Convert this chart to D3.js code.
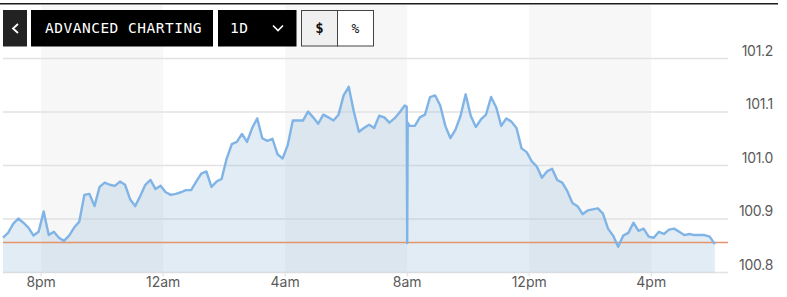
<!DOCTYPE html>
<html>
<head>
<meta charset="utf-8">
<script src="https://cdn.jsdelivr.net/npm/d3@7"></script>
<style>
body{margin:0;background:#fff;}
svg text{font-family:Inter,"Noto Sans",sans-serif;}
.btn text{font-family:"DejaVu Sans Mono",monospace;}
</style>
</head>
<body>
<div class="container"></div>
<script>
var WIDTH = 787, HEIGHT = 297;

// session, 10-minute closes starting 18:45
var startTime = "2024-01-08 18:45";
var stepMinutes = 10;
var prices = [
  100.865,100.874,100.891,100.901,100.893,100.884,100.869,100.876,100.914,100.870,
  100.876,100.865,100.859,100.869,100.884,100.895,100.945,100.947,100.924,100.960,
  100.968,100.964,100.962,100.970,100.964,100.937,100.924,100.943,100.964,100.973,
  100.956,100.962,100.950,100.945,100.947,100.950,100.954,100.954,100.970,100.985,
  100.989,100.960,100.970,100.975,101.013,101.040,101.044,101.059,101.044,101.070,
  101.088,101.051,101.046,101.050,101.021,101.013,101.038,101.084,101.084,101.084,
  101.101,101.090,101.078,101.095,101.090,101.084,101.095,101.131,101.147,101.101,
  101.063,101.070,101.076,101.070,101.093,101.090,101.080,101.088,101.099,101.112,
  101.074,101.074,101.090,101.095,101.128,101.131,101.112,101.074,101.051,101.067,
  101.093,101.133,101.093,101.072,101.086,101.095,101.128,101.109,101.074,101.088,
  101.082,101.070,101.032,101.025,101.008,100.998,100.977,100.989,100.994,100.973,
  100.968,100.952,100.930,100.924,100.909,100.916,100.918,100.920,100.910,100.882,
  100.869,100.848,100.869,100.874,100.893,100.878,100.882,100.867,100.865,100.876,
  100.872,100.880,100.882,100.876,100.870,100.872,100.870,100.870,100.870,100.867,
  100.853
];
// the 8am print
var spikeTimes = ["2024-01-09 07:59", "2024-01-09 08:00", "2024-01-09 08:01"];
var spikeValues = [101.110, 100.855, 101.080];

var previousClose = 100.856;
var yTicks = [100.8, 100.9, 101.0, 101.1, 101.2];
var domainStart = "2024-01-08 18:45", domainEnd = "2024-01-09 18:31";

var parse = d3.timeParse("%Y-%m-%d %H:%M");
var t0 = parse(startTime);
var series = prices.map(function(v, i){ return {t: d3.timeMinute.offset(t0, i * stepMinutes), v: v}; });
spikeTimes.forEach(function(s, i){ series.push({t: parse(s), v: spikeValues[i]}); });
series.sort(function(a, b){ return a.t - b.t; });

var LEFT = 3, RIGHT = 728, TOP = 58.5, BOTTOM = 272.5;

var svg = d3.select('.container').append('svg')
    .attr('width', WIDTH)
    .attr('height', HEIGHT);

var x = d3.scaleTime()
    .domain([parse(domainStart), parse(domainEnd)])
    .range([LEFT, RIGHT]);
var y = d3.scaleLinear()
    .domain([100.8, 101.2])
    .range([BOTTOM, TOP]);

var ticks = x.ticks(d3.timeHour.every(4));

// alternating 4-hour bands
svg.append('g').selectAll('rect').data(ticks)
    .enter().append('rect')
    .attr('x', function(d){ return x(d); })
    .attr('width', function(d){ return x(d3.timeHour.offset(d, 4)) - x(d); })
    .attr('y', 5)
    .attr('height', BOTTOM - 5)
    .attr('fill', function(d, i){ return i % 2 === 0 ? '#f7f7f7' : 'none'; });

svg.append('rect').attr('x', 0).attr('y', 3).attr('width', 778).attr('height', 1.5).attr('fill', '#1c1c1c');

svg.append('g').selectAll('line').data(yTicks)
    .enter().append('line')
    .attr('x1', LEFT).attr('x2', RIGHT)
    .attr('y1', function(d){ return y(d); })
    .attr('y2', function(d){ return y(d); })
    .attr('stroke', '#e2e2e2')
    .attr('stroke-width', 1.5);

var area = d3.area()
    .x(function(d){ return x(d.t); })
    .y0(BOTTOM)
    .y1(function(d){ return y(d.v); });
var line = d3.line()
    .x(function(d){ return x(d.t); })
    .y(function(d){ return y(d.v); });

svg.append('path').attr('d', area(series)).attr('fill', '#9ec0d9').attr('fill-opacity', 0.3);

svg.append('line')
    .attr('x1', LEFT).attr('x2', RIGHT)
    .attr('y1', y(previousClose)).attr('y2', y(previousClose))
    .attr('stroke', '#e3956b').attr('stroke-width', 1.5);

svg.append('path').attr('d', line(series))
    .attr('fill', 'none')
    .attr('stroke', '#80b4e6')
    .attr('stroke-width', 2.4)
    .attr('stroke-linejoin', 'round');

// x axis
var fmt = d3.timeFormat('%-I%p');
var xa = svg.append('g');
xa.selectAll('line').data(ticks).enter().append('line')
    .attr('x1', function(d){ return x(d); }).attr('x2', function(d){ return x(d); })
    .attr('y1', BOTTOM).attr('y2', BOTTOM + 4)
    .attr('stroke', '#dddddd');
xa.selectAll('text').data(ticks).enter().append('text')
    .attr('x', function(d){ return x(d); })
    .attr('y', 287)
    .attr('text-anchor', 'middle')
    .attr('font-size', 14)
    .attr('fill', '#5a5a5a')
    .text(function(d){ return fmt(d).toLowerCase(); });

// y labels
svg.append('g').selectAll('text').data(yTicks).enter().append('text')
    .attr('x', 773)
    .attr('y', function(d){ return y(d) - 3; })
    .attr('text-anchor', 'end')
    .attr('font-size', 14)
    .attr('letter-spacing', -0.3)
    .attr('fill', '#5a5a5a')
    .text(function(d){ return d3.format('.1f')(d); });

// toolbar
var btn = svg.append('g').classed('btn', true);
btn.append('rect').attr('x', 3).attr('y', 10).attr('width', 24).attr('height', 36.5).attr('fill', '#222');
btn.append('path').attr('d', 'M18,24L13,28.5L18,33').attr('fill', 'none').attr('stroke', '#fff').attr('stroke-width', 1.8);
btn.append('rect').attr('x', 31).attr('y', 10).attr('width', 182).attr('height', 36.5).attr('fill', '#000');
btn.append('text').attr('x', 45).attr('y', 33.3).attr('font-size', 14.5).attr('letter-spacing', 0.5).attr('fill', '#fff').text('ADVANCED CHARTING');
btn.append('rect').attr('x', 218).attr('y', 10).attr('width', 78.5).attr('height', 36.5).attr('fill', '#000');
btn.append('text').attr('x', 230).attr('y', 33.3).attr('font-size', 14.5).attr('letter-spacing', 0.5).attr('fill', '#fff').text('1D');
btn.append('path').attr('d', 'M273,25.5L278,30.5L283,25.5').attr('fill', 'none').attr('stroke', '#fff').attr('stroke-width', 1.6);
btn.append('rect').attr('x', 301.5).attr('y', 10.5).attr('width', 36).attr('height', 35.5).attr('fill', '#f0f0f0').attr('stroke', '#444');
btn.append('text').attr('x', 319.5).attr('y', 33).attr('text-anchor', 'middle').attr('font-size', 14).attr('font-weight', 'bold').attr('fill', '#111').text('$');
btn.append('rect').attr('x', 337.5).attr('y', 10.5).attr('width', 36).attr('height', 35.5).attr('fill', '#fff').attr('stroke', '#444');
btn.append('text').attr('x', 355.5).attr('y', 32.5).attr('text-anchor', 'middle').attr('font-size', 13).attr('fill', '#111').text('%');
</script>
</body>
</html>
